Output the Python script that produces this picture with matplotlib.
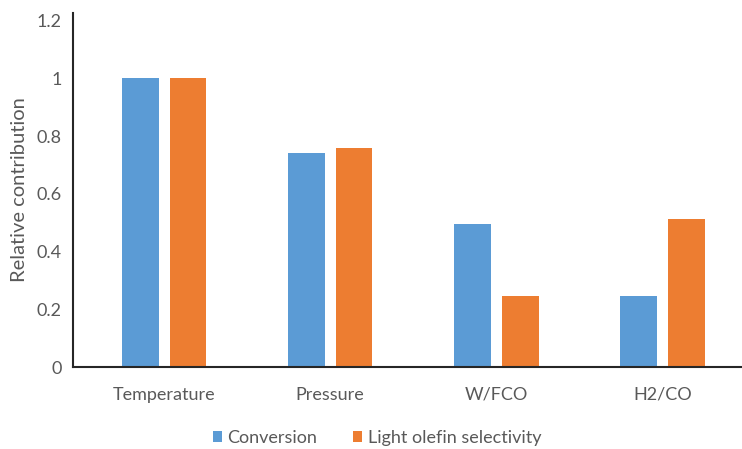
import matplotlib.pyplot as plt
import numpy as np

# relative contribution of each factor
factors = ['Temperature', 'Pressure', 'W/FCO', 'H2/CO']
conversion = [1.0, 0.74, 0.495, 0.245]
selectivity = [1.0, 0.758, 0.245, 0.512]
yticks = [0, 0.2, 0.4, 0.6, 0.8, 1.0, 1.2]
ytick_labels = ['0', '0.2', '0.4', '0.6', '0.8', '1', '1.2']

plt.rcParams['font.family'] = ['Lato', 'DejaVu Sans']
grey = '#595959'

fig = plt.figure(figsize=(7.42, 4.49), dpi=100)
ax = fig.add_axes([73/742, 1-367.3/449, 1-73/742, (367.3-12.7)/449])

x = np.arange(len(factors))
w = 0.221
ax.bar(x - 0.144, conversion, w, color='#5B9BD5', label='Conversion')
ax.bar(x + 0.144, selectivity, w, color='#ED7D31', label='Light olefin selectivity')

ax.set_xlim(-0.549, 3.48)
ax.set_ylim(0, 1.227)
ax.set_yticks(yticks)
ax.set_yticklabels(ytick_labels)
ax.set_xticks(x)
ax.set_xticklabels(factors)
ax.tick_params(axis='both', length=0, colors=grey, labelsize=13)
ax.tick_params(axis='y', pad=8)
ax.tick_params(axis='x', pad=14)
ax.set_ylabel('Relative contribution', color=grey, fontsize=14.5, labelpad=6)

for s in ['top', 'right']:
    ax.spines[s].set_visible(False)
for s in ['left', 'bottom']:
    ax.spines[s].set_color('#262626')
    ax.spines[s].set_linewidth(1.5)

fig.legend(loc='center', bbox_to_anchor=(377/742, 1-438/449), ncol=2,
           frameon=False, fontsize=13, labelcolor=grey,
           handlelength=0.5, handleheight=0.5, handletextpad=0.3, columnspacing=2.0)

plt.savefig('out.png', dpi=100)
